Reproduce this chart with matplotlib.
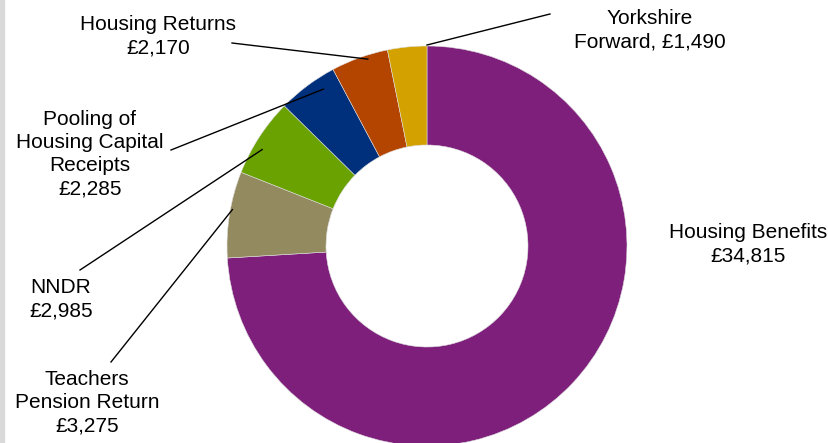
import numpy as np
import matplotlib.pyplot as plt
from matplotlib.patches import Rectangle

plt.rcParams['font.family'] = ['Liberation Sans', 'DejaVu Sans']

labels = ['Housing Benefits', 'Teachers\nPension Return', 'NNDR',
          'Pooling of\nHousing Capital\nReceipts', 'Housing Returns', 'Yorkshire\nForward,']
values = [34815, 3275, 2985, 2285, 2170, 1490]
colors = ['#7f1f7c', '#948a5f', '#6aa202', '#00307c', '#b34500', '#d4a200']

W, H = 829, 443
cx, cy = 427, H - 246
R = 200

# label text centres (pixel coords from top-left) and leader line starts
text_pos = [(748, 244), (87, 403), (61, 299), (90, 154), (158, 36), (650, 30)]
line_start = [None, (111, 362), (80, 270), (171, 150), (232, 43), (550, 14)]
leader_t = [None, 0.44, 0.62, 0.31, 0.37, 0.0]
leader_r = [None, 198, 191, 188, 196, 201]

fig = plt.figure(figsize=(W / 100, H / 100), dpi=100)
ax = fig.add_axes([0, 0, 1, 1])
wedges, _ = ax.pie(values, colors=colors, startangle=90, counterclock=False,
                   radius=R, center=(cx, cy),
                   wedgeprops=dict(width=99, linewidth=0.4, edgecolor='#dddddd'))
ax.set_xlim(0, W)
ax.set_ylim(0, H)
ax.set_aspect('equal')
ax.axis('off')

for i, (lab, val) in enumerate(zip(labels, values)):
    sep = ' ' if lab.endswith(',') else '\n'
    txt = f'{lab}{sep}£{val:,}'
    tx, ty = text_pos[i]
    ax.text(tx, H - ty, txt, ha='center', va='center', fontsize=15,
            linespacing=1.28, color='black')
    if line_start[i] is not None:
        w = wedges[i]
        ang = np.radians(w.theta1 + leader_t[i] * (w.theta2 - w.theta1))
        ex = cx + leader_r[i] * np.cos(ang)
        ey = cy + leader_r[i] * np.sin(ang)
        sx, sy = line_start[i]
        ax.plot([sx, ex], [H - sy, ey], color='black', lw=1)

fig.patches.append(Rectangle((0, 0), 4 / W, 1, transform=fig.transFigure,
                             color='#d9d9d9', zorder=0))

fig.savefig('out.png', dpi=100)
